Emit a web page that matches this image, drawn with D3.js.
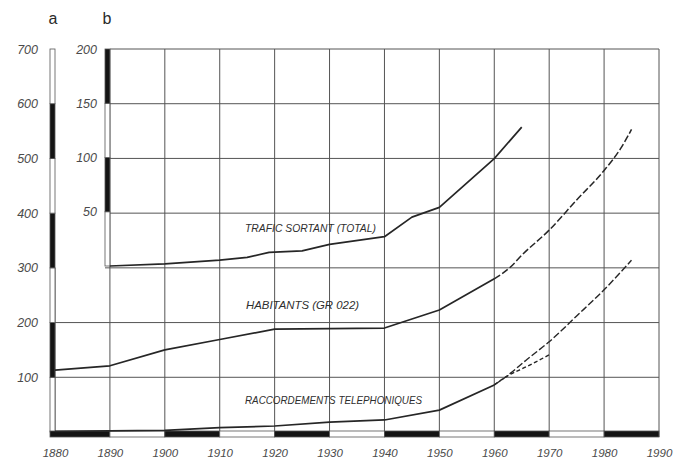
<!DOCTYPE html>
<html>
<head>
<meta charset="utf-8">
<script src="https://cdn.jsdelivr.net/npm/d3@7"></script>
<style>
  html, body { margin: 0; padding: 0; background: #fff; }
  svg { display: block; }
</style>
</head>
<body>
<svg id="chart" width="686" height="460"></svg>
<script>
// Decades on the horizontal axis
const years = [1880, 1890, 1900, 1910, 1920, 1930, 1940, 1950, 1960, 1970, 1980, 1990];
// Scale a (habitants, raccordements) and scale b (trafic) tick labels
const ticksA = [0, 100, 200, 300, 400, 500, 600, 700];
const ticksB = [0, 50, 100, 150, 200];

// Habitants (GR 022), scale a
const habitantsYears  = [1880, 1890, 1900, 1910, 1920, 1930, 1940, 1950, 1960];
const habitantsValues = [113, 121, 150, 169, 188, 189, 190, 223, 280];
const habitantsProjYears  = [1960, 1963, 1965, 1970, 1975, 1980, 1983, 1985];
const habitantsProjValues = [280, 302, 323, 369, 424, 478, 518, 553];

// Raccordements téléphoniques, scale a
const raccYears  = [1880, 1890, 1900, 1910, 1920, 1930, 1940, 1950, 1960];
const raccValues = [1, 2, 3, 8, 11, 18, 22, 40, 86];
const raccHighYears  = [1960, 1962, 1966, 1970, 1975, 1980, 1985];
const raccHighValues = [86, 100, 133, 165, 212, 260, 314];
const raccLowYears  = [1960, 1962, 1966, 1970];
const raccLowValues = [86, 100, 120, 141];

// Trafic sortant (total), scale b
const traficYears  = [1890, 1900, 1910, 1915, 1919, 1925, 1930, 1940, 1945, 1950, 1960, 1965];
const traficValues = [0, 2, 5.5, 8, 12.6, 14, 20, 27, 45, 54, 99, 128];

const svg = d3.select("#chart");
const ink = "#262626";
const gridInk = "#555";
const labelInk = "#4a4a4a";
const labelFont = "'Liberation Sans', Arial, sans-serif";

const x  = d3.scaleLinear().domain([1880, 1990]).range([55, 659]);
const yA = d3.scaleLinear().domain([0, 700]).range([432, 49]);
const yB = d3.scaleLinear().domain([0, 200]).range([266, 49]);

const barLeftA = 50, barLeftB = 105;
const bottomTop = 431, bottomBot = 437;

// Grid: vertical decade lines
const grid = svg.append("g").attr("stroke", gridInk).attr("stroke-width", 1).attr("fill", "none");
grid.selectAll("line.v").data(years).join("line")
  .attr("x1", d => x(d)).attr("x2", d => x(d))
  .attr("y1", d => d === 1880 ? yA(300) : yA(700)).attr("y2", bottomBot);
// Horizontal lines: full width below 300, starting at scale b above it
grid.selectAll("line.h").data(ticksA.filter(d => d > 0)).join("line")
  .attr("x1", d => d < 300 ? x(1880) : (d === 300 ? barLeftB : x(1890)))
  .attr("x2", x(1990))
  .attr("y1", d => yA(d)).attr("y2", d => yA(d));

// Scale a bar (alternating black / white blocks)
const segA = d3.pairs(ticksA).map(([a, b], i) => ({ a, b, black: i % 2 === 1 }));
svg.append("g").selectAll("rect").data(segA).join("rect")
  .attr("x", barLeftA).attr("width", x(1880) - barLeftA)
  .attr("y", d => yA(d.b)).attr("height", d => yA(d.a) - yA(d.b))
  .attr("fill", d => d.black ? "#141414" : "#fff")
  .attr("stroke", gridInk).attr("stroke-width", 0.8);

// Scale b bar
const segB = d3.pairs(ticksB).map(([a, b], i) => ({ a, b, black: i % 2 === 1 }));
svg.append("g").selectAll("rect").data(segB).join("rect")
  .attr("x", barLeftB).attr("width", x(1890) - barLeftB)
  .attr("y", d => yB(d.b)).attr("height", d => yB(d.a) - yB(d.b))
  .attr("fill", d => d.black ? "#141414" : "#fff")
  .attr("stroke", gridInk).attr("stroke-width", 0.8);

// Time bar along the bottom
const segT = d3.pairs(years).map(([a, b], i) => ({ a, b, black: i % 2 === 0 }));
svg.append("g").selectAll("rect").data(segT).join("rect")
  .attr("x", d => d.a === 1880 ? barLeftA : x(d.a))
  .attr("width", d => x(d.b) - (d.a === 1880 ? barLeftA : x(d.a)))
  .attr("y", bottomTop).attr("height", bottomBot - bottomTop)
  .attr("fill", d => d.black ? "#141414" : "#fff")
  .attr("stroke", gridInk).attr("stroke-width", 0.8);

// Axis labels
const axA = svg.append("g").attr("transform", `translate(${barLeftA},0)`)
  .call(d3.axisLeft(yA).tickValues(ticksA.filter(d => d > 0)).tickSize(0).tickPadding(12));
const axB = svg.append("g").attr("transform", `translate(${barLeftB},0)`)
  .call(d3.axisLeft(yB).tickValues(ticksB.filter(d => d > 0)).tickSize(0).tickPadding(8));
const axX = svg.append("g").attr("transform", `translate(0,${bottomBot})`)
  .call(d3.axisBottom(x).tickValues(years).tickFormat(d3.format("d")).tickSize(0).tickPadding(12));
[axA, axB].forEach(g => {
  g.select(".domain").remove();
  g.selectAll("text")
    .attr("fill", labelInk)
    .style("font-family", labelFont)
    .style("font-style", "italic")
    .style("font-size", "12.5px");
});
axX.select(".domain").remove();
axX.selectAll("text")
  .attr("fill", labelInk)
  .style("font-family", labelFont)
  .style("font-style", "italic")
  .style("font-size", "11.5px");

// Scale letters
svg.append("g").selectAll("text").data([["a", 53], ["b", 107]]).join("text")
  .attr("x", d => d[1]).attr("y", 24).attr("text-anchor", "middle")
  .attr("fill", "#2a2a2a").style("font-family", labelFont).style("font-size", "16px")
  .text(d => d[0]);

// Series lines
const lineA = (ys, vs, curve) => d3.line().curve(curve)
  .x((d, i) => x(ys[i])).y(d => yA(d))(vs);
const lineB = (ys, vs, curve) => d3.line().curve(curve)
  .x((d, i) => x(ys[i])).y(d => yB(d))(vs);

const series = svg.append("g").attr("fill", "none").attr("stroke", ink)
  .attr("stroke-width", 1.7).attr("stroke-linejoin", "round");

series.append("path").attr("d", lineB(traficYears, traficValues, d3.curveLinear));
series.append("path").attr("d", lineA(habitantsYears, habitantsValues, d3.curveLinear));
series.append("path").attr("d", lineA(habitantsProjYears, habitantsProjValues, d3.curveMonotoneX))
  .attr("stroke-dasharray", "7 2.5").attr("stroke-width", 1.5);
series.append("path").attr("d", lineA(raccYears, raccValues, d3.curveLinear));
series.append("path").attr("d", lineA(raccHighYears, raccHighValues, d3.curveMonotoneX))
  .attr("stroke-dasharray", "7 2.5").attr("stroke-width", 1.4);
series.append("path").attr("d", lineA(raccLowYears, raccLowValues, d3.curveMonotoneX))
  .attr("stroke-dasharray", "4 2.5").attr("stroke-width", 1.4);

// Series names
const names = [
  { text: "TRAFIC SORTANT (TOTAL)", x: 245, y: 232, w: 131 },
  { text: "HABITANTS (GR 022)", x: 246, y: 309, w: 113 },
  { text: "RACCORDEMENTS TELEPHONIQUES", x: 245, y: 403.5, w: 177 }
];
svg.append("g").selectAll("text").data(names).join("text")
  .attr("x", d => d.x).attr("y", d => d.y)
  .attr("textLength", d => d.w).attr("lengthAdjust", "spacingAndGlyphs")
  .attr("fill", "#2e2e2e")
  .style("font-family", labelFont).style("font-style", "italic")
  .style("font-size", "11.5px")
  .text(d => d.text);
</script>
</body>
</html>
